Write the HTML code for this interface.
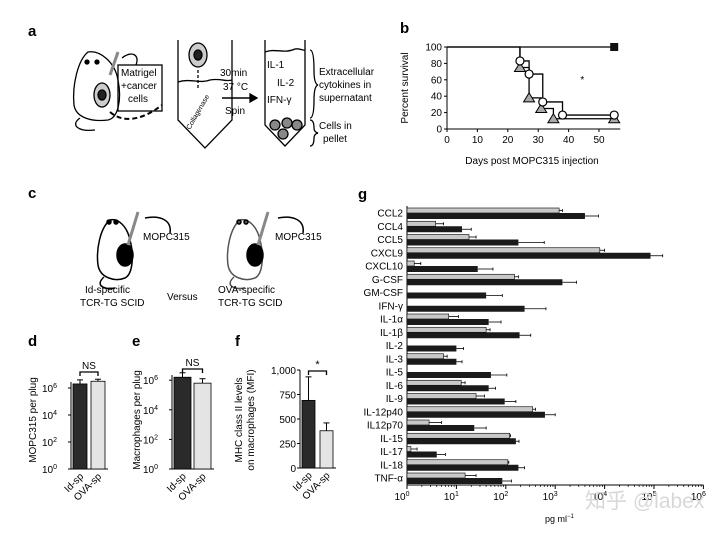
<!DOCTYPE html>
<html><head><meta charset="utf-8"><style>
body{margin:0;background:#fff;}
svg{display:block;font-family:"Liberation Sans","Noto Sans CJK SC",sans-serif;}
</style></head><body>
<svg id="fig" width="727" height="537" viewBox="0 0 727 537">
<rect width="727" height="537" fill="#fff"/>
<g font-weight="bold" font-size="15" fill="#000">
<text x="28" y="36">a</text>
<text x="400" y="33">b</text>
<text x="28" y="198">c</text>
<text x="28" y="346">d</text>
<text x="132" y="346">e</text>
<text x="235" y="346">f</text>
<text x="358" y="199">g</text>
</g>
<!-- Panel a schematic -->
<g stroke="#000" fill="none" stroke-width="1.3">
<path d="M88,52 C78,60 72,85 74,105 C76,118 92,122 108,120 C118,118 122,100 118,80 C115,62 100,50 88,52 Z"/>
<path d="M80,118 C70,125 78,132 95,130"/>
<circle cx="87" cy="62" r="2" fill="#000"/><circle cx="97" cy="62" r="2" fill="#000"/>
<ellipse cx="102" cy="95" rx="8" ry="12" fill="#ccc"/>
<ellipse cx="102" cy="95" rx="4" ry="5" fill="#222"/>
<line x1="110" y1="75" x2="118" y2="52" stroke-width="3" stroke="#888"/>
<path d="M122,58 C132,50 140,55 136,65" />
<rect x="118" y="65" width="44" height="46"/>
<path d="M110,112 C125,125 145,118 162,105" stroke-dasharray="5,3" stroke-width="2"/>
<path d="M178,40 L178,120 L205,148 L232,120 L232,40"/>
<path d="M178,82 C190,78 200,84 210,80 C220,78 226,82 232,80"/>
<ellipse cx="198" cy="55" rx="9" ry="12" fill="#ccc"/><ellipse cx="198" cy="55" rx="4" ry="5" fill="#222"/>
<line x1="198" y1="70" x2="198" y2="90" stroke-dasharray="3,2"/>
<line x1="222" y1="98" x2="250" y2="98" stroke-width="1.5"/>
<path d="M250,94 L257,98 L250,102 Z" fill="#000"/>
<path d="M265,40 L265,125 L285,146 L305,125 L305,40"/>
<path d="M265,52 C275,48 285,54 295,49 C300,48 303,51 305,50"/>
<circle cx="275" cy="125" r="5" fill="#888"/><circle cx="287" cy="123" r="5" fill="#888"/><circle cx="297" cy="125" r="5" fill="#888"/><circle cx="283" cy="134" r="5" fill="#888"/>
<path d="M310,50 Q314,50 314,70 Q314,84 318,85 Q314,86 314,100 Q314,118 310,118"/>
<path d="M310,120 Q314,120 314,128 Q314,132 318,133 Q314,134 314,138 Q314,146 310,146"/>
</g>
<g font-size="10" fill="#000">
<text x="121" y="76">Matrigel</text><text x="121" y="89">+cancer</text><text x="128" y="102">cells</text>
<text x="220" y="76">30min</text><text x="223" y="90">37 °C</text><text x="225" y="114">Spin</text>
<text x="267" y="68">IL-1</text><text x="277" y="86">IL-2</text><text x="267" y="103">IFN-γ</text>
<text x="319" y="75">Extracellular</text><text x="319" y="88">cytokines in</text><text x="319" y="101">supernatant</text>
<text x="319" y="129">Cells in</text><text x="323" y="142">pellet</text>
<text x="0" y="0" font-size="7" transform="translate(190,130) rotate(-60)">Collagenase</text>
</g>
<!-- Panel c schematic -->
<g stroke="#000" fill="none" stroke-width="1.5">
<path d="M110,220 C100,228 96,250 98,265 C100,278 115,282 125,278 C133,274 134,255 130,240 C127,226 118,218 110,220 Z"/>
<path d="M104,277 C95,285 103,290 115,288"/>
<circle cx="109" cy="222" r="2" fill="#000"/><circle cx="116" cy="222" r="2" fill="#000"/>
<ellipse cx="125" cy="255" rx="8" ry="11" fill="#000"/>
<line x1="128" y1="245" x2="138" y2="212" stroke="#888" stroke-width="3"/>
<path d="M170,233 C172,220 160,215 145,218"/>
<path d="M240,220 C230,228 226,250 228,265 C230,278 245,282 255,278 C263,274 264,255 260,240 C257,226 248,218 240,220 Z" stroke="#555"/>
<path d="M234,277 C225,285 233,290 245,288" stroke="#555"/>
<circle cx="239" cy="222" r="2" fill="#555"/><circle cx="246" cy="222" r="2" fill="#555"/>
<ellipse cx="255" cy="255" rx="8" ry="11" fill="#000"/>
<line x1="258" y1="245" x2="268" y2="212" stroke="#888" stroke-width="3"/>
<path d="M303,233 C305,220 293,215 278,218"/>
</g>
<g font-size="10" fill="#000">
<text x="143" y="240">MOPC315</text><text x="275" y="240">MOPC315</text>
<text x="85" y="293">Id-specific</text><text x="80" y="306">TCR-TG SCID</text>
<text x="167" y="300">Versus</text>
<text x="218" y="293">OVA-specific</text><text x="218" y="306">TCR-TG SCID</text>
</g>
<g id="charts"></g>
<text x="585" y="508" font-size="21" fill="#d8d8d8">知乎 @labex</text>
</svg>
<script>
// ---------- Panel g data ----------
const gCategories=["CCL2","CCL4","CCL5","CXCL9","CXCL10","G-CSF","GM-CSF","IFN-γ","IL-1α","IL-1β","IL-2","IL-3","IL-5","IL-6","IL-9","IL-12p40","IL12p70","IL-15","IL-17","IL-18","TNF-α"];
const gGrey=[1200,3.8,18,8000,1.4,150,null,null,7,40,null,5.5,null,12.5,25,350,2.8,120,1.2,110,15];
const gGreyErr=[1400,5.5,25,10000,1.9,180,null,null,11,48,null,6.5,null,15,37,400,5,125,1.6,115,25];
const gBlack=[4000,13,180,85000,27,1400,40,240,45,190,10,10,50,45,95,620,23,160,4,180,85];
const gBlackErr=[7500,20,600,150000,55,2700,85,650,80,320,14,13,105,62,160,1000,40,185,6,240,130];
const gTickExp=[0,1,2,3,4,5,6];
// ---------- Panel b data ----------
const bXTicks=[0,10,20,30,40,50];
const bYTicks=[0,20,40,60,80,100];
const bSquareSteps=[[0,100],[55,100]];
const bCircleSteps=[[0,100],[24,100],[24,83],[27,83],[27,67],[31.5,67],[31.5,33],[38,33],[38,17],[55,17]];
const bCirclePts=[[24,83],[27,67],[31.5,33],[38,17],[55,17]];
const bTriSteps=[[24,100],[24,75],[27,75],[27,38],[31,38],[31,25],[35,25],[35,12.5],[55,12.5]];
const bTriPts=[[24,75],[27,38],[31,25],[35,12.5],[55,12.5]];
// ---------- Panels d/e/f data ----------
const dValues=[6.3,6.5]; const dErr=[6.6,6.65];   // log10 counts
const eValues=[6.2,5.8]; const eErr=[6.5,6.1];
const fValues=[690,380]; const fErr=[930,460];
const groupLabels=["Id-sp","OVA-sp"];
const logTicks=[0,2,4,6];
const fTicks=[0,250,500,750,1000];
const fTickLabels=["0","250","500","750","1,000"];

const NS="http://www.w3.org/2000/svg";
const root=document.getElementById('charts');
function mk(tag,attrs,parent){const e=document.createElementNS(NS,tag);for(const k in attrs)e.setAttribute(k,attrs[k]);(parent||root).appendChild(e);return e;}
function txt(s,attrs,parent){const e=mk('text',attrs,parent);e.textContent=s;return e;}

// ===== Panel g =====
(function(){
 const g=mk('g',{});
 
 
 const x0=407,dec=49.4,top=206,bot=485,y0=213,step=(478-213)/(gCategories.length-1);
 const X=v=>x0+Math.log10(v)*dec;
 const Y=i=>y0+i*step;
 const ax=mk('line',{x1:x0,y1:top,x2:x0,y2:bot,stroke:'#000','stroke-width':1},g);
 
 const xa=mk('line',{x1:x0,y1:bot,x2:x0+6*dec,y2:bot,stroke:'#000','stroke-width':1},g);
 
 gTickExp.forEach(e=>{
  const xx=x0+e*dec;
  mk('line',{x1:xx,y1:bot,x2:xx,y2:bot+4,stroke:'#000'},g);
  if(e<6)for(let m=2;m<10;m++){const xm=x0+(e+Math.log10(m))*dec;mk('line',{x1:xm,y1:bot,x2:xm,y2:bot+2,stroke:'#000','stroke-width':0.7},g);}
  const t=txt('10',{x:xx-5,y:bot+15,'font-size':10,'text-anchor':'middle'},g);
  
  const sp=document.createElementNS(NS,'tspan');sp.setAttribute('dy','-4');sp.setAttribute('font-size','7');sp.textContent=e;t.appendChild(sp);
 });
 const xt=txt('pg ml',{x:545,y:522,'font-size':9},g);
 
 const sp=document.createElementNS(NS,'tspan');sp.setAttribute('dy','-4');sp.setAttribute('font-size','6');sp.textContent='−1';xt.appendChild(sp);
 gCategories.forEach((c,i)=>{
  const yc=Y(i);
  const lab=txt(c,{x:403,y:yc+3.5,'font-size':10,'text-anchor':'end'},g);
  
  if(gGrey[i]!=null){
   const r=mk('rect',{x:x0,y:yc-5,width:X(gGrey[i])-x0,height:5,fill:'#c8c8c8',stroke:'#000','stroke-width':0.6},g);
   
   mk('line',{x1:X(gGrey[i]),y1:yc-2.5,x2:X(gGreyErr[i]),y2:yc-2.5,stroke:'#000','stroke-width':0.8},g);
   mk('line',{x1:X(gGreyErr[i]),y1:yc-4,x2:X(gGreyErr[i]),y2:yc-1,stroke:'#000','stroke-width':0.8},g);
  }
  const r2=mk('rect',{x:x0,y:yc,width:X(gBlack[i])-x0,height:6,fill:'#1a1a1a'},g);
  
  mk('line',{x1:X(gBlack[i]),y1:yc+3,x2:X(gBlackErr[i]),y2:yc+3,stroke:'#000','stroke-width':0.8},g);
  mk('line',{x1:X(gBlackErr[i]),y1:yc+1.5,x2:X(gBlackErr[i]),y2:yc+4.5,stroke:'#000','stroke-width':0.8},g);
 });
})();

// ===== Panel b =====
(function(){
 const g=mk('g',{});
 
 
 const X=d=>447+d*3.04, Y=p=>129-p*0.82;
 mk('line',{x1:447,y1:Y(100),x2:447,y2:129,stroke:'#000'},g);
 mk('line',{x1:447,y1:129,x2:X(57),y2:129,stroke:'#000'},g);
 bXTicks.forEach(v=>{mk('line',{x1:X(v),y1:129,x2:X(v),y2:132,stroke:'#000'},g);
  const t=txt(v,{x:X(v),y:143,'font-size':10,'text-anchor':'middle'},g);});
 bYTicks.forEach(v=>{mk('line',{x1:444,y1:Y(v),x2:447,y2:Y(v),stroke:'#000'},g);
  const t=txt(v,{x:442,y:Y(v)+3.5,'font-size':10,'text-anchor':'end'},g);});
 const xt=txt('Days post MOPC315 injection',{x:532,y:164,'font-size':10,'text-anchor':'middle'},g);
 
 const yt=txt('Percent survival',{x:0,y:0,'font-size':10,'text-anchor':'middle',transform:'translate(408,88) rotate(-90)'},g);
 
 const pl=(pts,name)=>{const p=mk('polyline',{points:pts.map(q=>X(q[0])+','+Y(q[1])).join(' '),fill:'none',stroke:'#000','stroke-width':1.3},g);};
 pl(bSquareSteps,'line-id-sp');pl(bCircleSteps,'line-circle');pl(bTriSteps,'line-triangle');
 bTriPts.forEach(q=>{const x=X(q[0]),y=Y(q[1]);const t=mk('path',{d:`M${x},${y-5} L${x+5.5},${y+4} L${x-5.5},${y+4} Z`,fill:'#aaa',stroke:'#000'},g);});
 bCirclePts.forEach(q=>{const c=mk('circle',{cx:X(q[0]),cy:Y(q[1]),r:4,fill:'#fff',stroke:'#000','stroke-width':1.2},g);});
 const sq=mk('rect',{x:X(55)-4,y:Y(100)-4,width:8,height:8,fill:'#111'},g);
 const st=txt('*',{x:X(44.5),y:Y(62)+5,'font-size':10,'text-anchor':'middle'},g);
})();

// ===== Panels d, e, f =====
function barPanel(opt){
 const g=mk('g',{});
 
 
 const {ax,bot,Y}=opt;
 mk('line',{x1:ax,y1:opt.top,x2:ax,y2:bot,stroke:'#000'},g);
 mk('line',{x1:ax,y1:bot,x2:opt.bars[1][1]+3,y2:bot,stroke:'#000'},g);
 opt.ticks.forEach((v,i)=>{mk('line',{x1:ax-3,y1:Y(v),x2:ax,y2:Y(v),stroke:'#000'},g);
  let t;
  if(opt.log){t=txt('10',{x:ax-9,y:Y(v)+4,'font-size':10,'text-anchor':'end'},g);const sp=document.createElementNS(NS,'tspan');sp.setAttribute('dy','-4');sp.setAttribute('font-size','7');sp.textContent=v;t.appendChild(sp);t.setAttribute('x',ax-14);}
  else t=txt(opt.tickLabels[i],{x:ax-4,y:Y(v)+4,'font-size':10,'text-anchor':'end'},g);
  });
 opt.values.forEach((v,i)=>{const [x1,x2]=opt.bars[i];const xc=(x1+x2)/2;
  mk('line',{x1:xc,y1:Y(v),x2:xc,y2:Y(opt.err[i]),stroke:'#000'},g);
  mk('line',{x1:xc-3,y1:Y(opt.err[i]),x2:xc+3,y2:Y(opt.err[i]),stroke:'#000'},g);
  const r=mk('rect',{x:x1,y:Y(v),width:x2-x1,height:bot-Y(v),fill:i?'#e4e4e4':'#2a2a2a',stroke:'#000','stroke-width':0.8},g);
  
  const l=txt(groupLabels[i],{x:0,y:0,'font-size':10,'text-anchor':'end',transform:`translate(${xc+4},${bot+8}) rotate(-45)`},g);
  });
 const c0=(opt.bars[0][0]+opt.bars[0][1])/2,c1=(opt.bars[1][0]+opt.bars[1][1])/2;
 mk('path',{d:`M${c0},${opt.brY+4} L${c0},${opt.brY} L${c1},${opt.brY} L${c1},${opt.brY+4}`,fill:'none',stroke:'#000','stroke-width':1.3},g);
 const s=txt(opt.sig,{x:(c0+c1)/2,y:opt.brY-3,'font-size':opt.sig=='*'?11:10,'text-anchor':'middle'},g);
 
 opt.ytitle.forEach((t,i)=>{const e=txt(t,{x:0,y:0,'font-size':10,'text-anchor':'middle',transform:`translate(${opt.ytx+i*12},${opt.yty}) rotate(-90)`},g);});
}
barPanel({name:'d-chart',ax:71,bot:469,top:382,Y:v=>469-v*13.5,log:true,ticks:logTicks,values:dValues,err:dErr,bars:[[73,87],[91,105]],brY:372,sig:'NS',ytitle:['MOPC315 per plug'],ytx:36,yty:420});
barPanel({name:'e-chart',ax:172,bot:469,top:375,Y:v=>469-v*14.8,log:true,ticks:logTicks,values:eValues,err:eErr,bars:[[174,191],[194,211]],brY:369,sig:'NS',ytitle:['Macrophages per plug'],ytx:140,yty:420});
barPanel({name:'f-chart',ax:300,bot:468,top:370,Y:v=>468-v*0.098,log:false,ticks:fTicks,tickLabels:fTickLabels,values:fValues,err:fErr,bars:[[302,315],[320,333]],brY:371,sig:'*',ytitle:['MHC class II levels','on macrophages (MFI)'],ytx:242,yty:420});
</script>
</body></html>
